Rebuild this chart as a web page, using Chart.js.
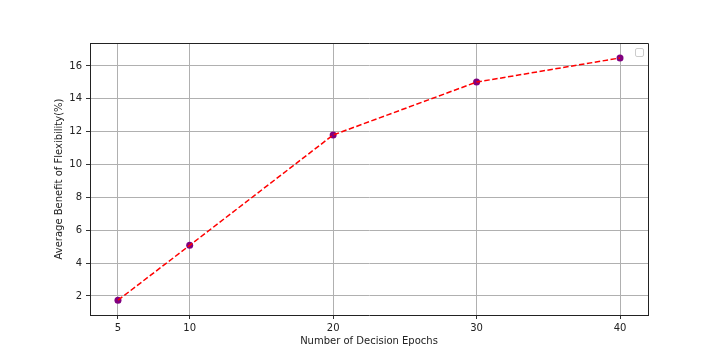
<!DOCTYPE html>
<html>
<head>
<meta charset="utf-8">
<script src="https://cdn.jsdelivr.net/npm/chart.js@4/dist/chart.umd.min.js"></script>
<style>
  html, body { margin: 0; padding: 0; background: #fff; }
  #wrap { width: 720px; height: 360px; }
</style>
</head>
<body>
<div id="wrap"><canvas id="chart" width="720" height="360"></canvas></div>
<script>
const epochs = [5, 10, 20, 30, 40];
const benefit = [1.74, 5.08, 11.8, 15.02, 16.49];
const xTicks = [5, 10, 20, 30, 40];
const yTicks = [2, 4, 6, 8, 10, 12, 14, 16];

const FONT = { family: 'DejaVu Sans', size: 10 };

// full axes frame plus the empty legend box matplotlib leaves in the corner
const frame = {
    id: 'frame',
    afterDraw(chart) {
        const ctx = chart.ctx;
        const a = chart.chartArea;
        ctx.save();
        ctx.strokeStyle = '#222';
        ctx.lineWidth = 1;
        ctx.beginPath();
        ctx.moveTo(a.left, a.top + 0.5);
        ctx.lineTo(a.right + 0.5, a.top + 0.5);
        ctx.lineTo(a.right + 0.5, a.bottom);
        ctx.stroke();

        ctx.strokeStyle = '#cccccc';
        ctx.beginPath();
        ctx.roundRect(a.right - 12.5, a.top + 5.5, 8, 8, 1.5);
        ctx.stroke();
        ctx.restore();
    }
};

new Chart(document.getElementById('chart').getContext('2d'), {
    type: 'line',
    data: {
        datasets: [
            {
                // dashed line on top
                data: epochs.map((x, i) => ({ x, y: benefit[i] })),
                borderColor: '#ff0000',
                borderWidth: 1.5,
                borderDash: [5.5, 2.5],
                pointRadius: 0,
                tension: 0,
                order: 0
            },
            {
                data: epochs.map((x, i) => ({ x, y: benefit[i] })),
                showLine: false,
                pointRadius: 3.5,
                pointBackgroundColor: '#800080',
                pointBorderColor: '#800080',
                pointBorderWidth: 0,
                order: 1
            }
        ]
    },
    options: {
        responsive: false,
        animation: false,
        layout: { padding: { left: 48, right: 72, top: 43, bottom: 9 } },
        plugins: { legend: { display: false }, tooltip: { enabled: false } },
        scales: {
            x: {
                type: 'linear',
                min: 3.05,
                max: 41.95,
                afterBuildTicks: s => { s.ticks = xTicks.map(v => ({ value: v })); },
                afterFit: s => { s.height = 36; },
                grid: { color: '#b0b0b0', lineWidth: 1, tickLength: 4, tickColor: '#333', drawTicks: true },
                border: { color: '#222', width: 1 },
                ticks: { color: '#222', font: FONT, padding: 3, maxRotation: 0 },
                title: { display: true, text: 'Number of Decision Epochs', color: '#222', font: FONT, padding: { top: 1 } }
            },
            y: {
                min: 0.84,
                max: 17.4,
                afterBuildTicks: s => { s.ticks = yTicks.map(v => ({ value: v })); },
                afterFit: s => { s.width = 42; },
                grid: { color: '#b0b0b0', lineWidth: 1, tickLength: 4, tickColor: '#333', drawTicks: true },
                border: { color: '#222', width: 1 },
                ticks: { color: '#222', font: FONT, padding: 4 },
                title: { display: true, text: 'Average Benefit of Flexibility(%)', color: '#222', font: FONT, padding: { top: 5, bottom: 0 } }
            }
        }
    },
    plugins: [frame]
});
</script>
</body>
</html>
